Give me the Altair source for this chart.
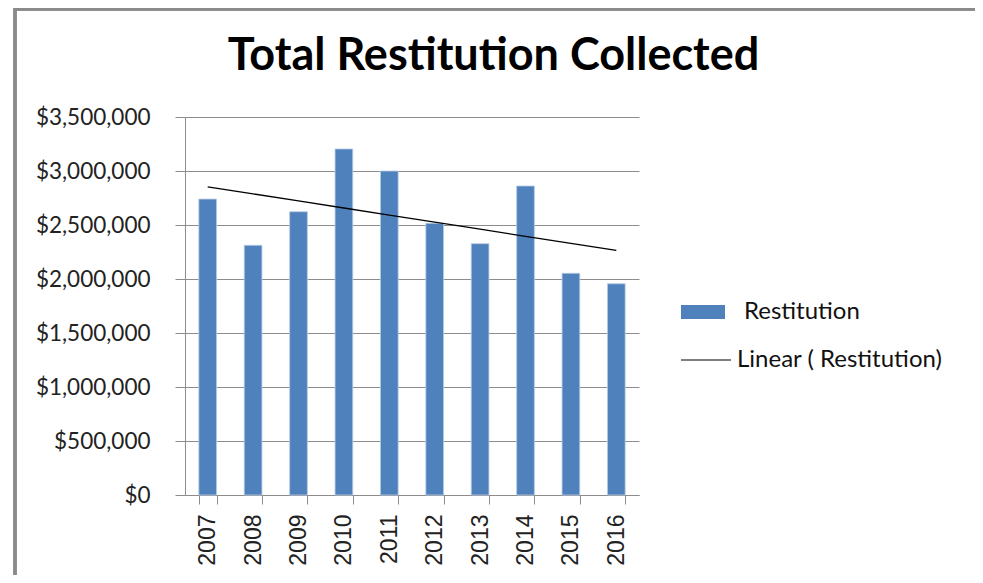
import altair as alt
import pandas as pd
import numpy as np

years = ["2007", "2008", "2009", "2010", "2011", "2012", "2013", "2014", "2015", "2016"]
restitution = [2740000, 2312000, 2623000, 3204000, 3000000, 2516000, 2327000, 2861000, 2053000, 1956000]
title_text = "Total  Restitution Collected"

idx = np.arange(len(years))
slope, intercept = np.polyfit(idx, restitution, 1)
trend = [float(intercept + slope * i) for i in idx]

df = pd.DataFrame({
    "Year": years,
    "Restitution": restitution,
    "Trend": trend,
    "BarLabel": ["Restitution"] * len(years),
    "LineLabel": ["Linear ( Restitution)"] * len(years),
})

GRID = "#8c8c8c"
FONT = "Lato"

xenc = alt.X(
    "Year:O",
    title=None,
    scale=alt.Scale(paddingInner=0.61, paddingOuter=0.305),
    axis=alt.Axis(
        labelAngle=-90, labelAlign="right", labelBaseline="middle",
        labelFont="Liberation Sans", labelFontSize=23, labelColor="#222222",
        labelPadding=10, tickSize=9, tickColor=GRID, domainColor=GRID,
        tickBand="extent", grid=False,
    ),
)

bars = alt.Chart(df).mark_bar(color="#4F81BD", stroke="#B9CDE5", strokeWidth=0.8).encode(
    x=xenc,
    y=alt.Y(
        "Restitution:Q",
        title=None,
        scale=alt.Scale(domain=[0, 3500000], nice=False),
        axis=alt.Axis(
            values=[0, 500000, 1000000, 1500000, 2000000, 2500000, 3000000, 3500000],
            format="$,.0f", labelFont=FONT, labelFontSize=22.5, labelColor="#222222",
            labelPadding=25, tickSize=10, tickColor=GRID, domainColor=GRID,
            gridColor=GRID, gridWidth=1,
        ),
    ),
    fill=alt.Fill(
        "BarLabel:N",
        scale=alt.Scale(range=["#4F81BD"]),
        legend=alt.Legend(
            title=None, orient="none", legendX=496, legendY=173,
            symbolType="M-1,-0.32H1V0.32H-1Z", symbolSize=1936,
            symbolStrokeWidth=0, labelFont=FONT, labelFontSize=24,
            labelColor="#111111", labelOffset=19, padding=0, labelLimit=0,
        ),
    ),
)

line = alt.Chart(df).mark_line(color="black", strokeWidth=1.3).encode(
    x=alt.X("Year:O"),
    y=alt.Y("Trend:Q"),
    stroke=alt.Stroke(
        "LineLabel:N",
        scale=alt.Scale(range=["black"]),
        legend=alt.Legend(
            title=None, orient="none", legendX=495, legendY=217,
            symbolType="stroke", symbolSize=2500, symbolStrokeWidth=1.2,
            labelFont=FONT, labelFontSize=24, labelColor="#111111",
            labelOffset=5, padding=0, labelLimit=0,
        ),
    ),
)

frame = alt.Chart(df).mark_rect(fill=None, stroke="#8a8a8a", strokeWidth=2.5).encode(
    x=alt.value(-170), x2=alt.value(792), y=alt.value(-108), y2=alt.value(466)
)

title = alt.Chart(pd.DataFrame({"t": [title_text]})).mark_text(
    font=FONT, fontSize=45, fontWeight="bold", color="black",
    align="center", baseline="alphabetic",
).encode(text="t:N", x=alt.value(308.5), y=alt.value(-47))

chart = alt.layer(frame, bars, line, title).resolve_scale(y="shared").properties(
    width=454,
    height=378,
    autosize=alt.AutoSizeParams(type="none"),
    padding={"left": 177, "top": 109, "right": 336, "bottom": 80},
).configure_view(stroke=None).configure_axisY(domain=True)

chart.save("out.html", embed_options={"renderer": "svg", "actions": False})
